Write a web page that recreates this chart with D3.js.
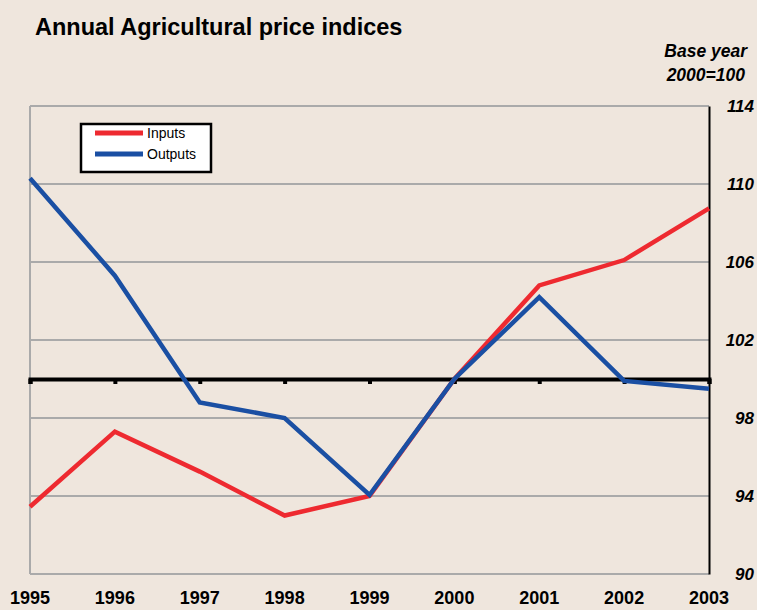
<!DOCTYPE html>
<html>
<head>
<meta charset="utf-8">
<script src="https://cdn.jsdelivr.net/npm/d3@7"></script>
<style>
  body { margin: 0; background: #efe6dd; }
  svg { display: block; font-family: "Liberation Sans", Arial, sans-serif; }
</style>
</head>
<body>
<div id="chart"></div>
<script>
// datos
const years = [1995, 1996, 1997, 1998, 1999, 2000, 2001, 2002, 2003];
const inputs = [93.45, 97.3, 95.25, 93.0, 94.0, 100.0, 104.8, 106.1, 108.75];
const outputs = [110.3, 105.3, 98.8, 98.0, 94.05, 100.0, 104.2, 99.9, 99.5];
const yTicks = [90, 94, 98, 102, 106, 110, 114];

const svgWidth = 757;
const svgHeight = 610;
const margin = { top: 106, right: 48, bottom: 36, left: 30 };
const width = svgWidth - margin.left - margin.right;
const height = svgHeight - margin.top - margin.bottom;

const svg = d3.select("#chart")
  .append("svg")
  .attr("width", svgWidth)
  .attr("height", svgHeight);

svg.append("rect").attr("width", svgWidth).attr("height", svgHeight).attr("fill", "#efe6dd");

const g = svg.append("g").attr("transform", `translate(${margin.left},${margin.top})`);

const xScale = d3.scaleLinear().domain([1995, 2003]).range([0, width]);
const yScale = d3.scaleLinear().domain([90, 114]).range([height, 0]);

// lineas de la grilla
g.selectAll(".grid")
  .data(yTicks)
  .enter().append("line")
  .attr("x1", 0).attr("x2", width)
  .attr("y1", d => yScale(d)).attr("y2", d => yScale(d))
  .attr("stroke", "#aaaaaa").attr("stroke-width", 2);

// eje izquierdo gris
g.append("line")
  .attr("x1", 0).attr("x2", 0).attr("y1", 0).attr("y2", height)
  .attr("stroke", "#aaaaaa").attr("stroke-width", 2);

// eje derecho con etiquetas
const yAxis = g.append("g")
  .attr("transform", `translate(${width},0)`)
  .call(d3.axisRight(yScale).tickValues(yTicks).tickSize(0).tickPadding(0));
yAxis.select(".domain").attr("stroke", "#000").attr("stroke-width", 2);
yAxis.selectAll("text")
  .attr("x", 45)
  .attr("text-anchor", "end")
  .style("font-size", "17px")
  .style("font-weight", "bold")
  .style("font-style", "italic")
  .style("font-family", "'Liberation Sans', Arial, sans-serif")
  .attr("fill", "#000");

// linea base 100 con marcas
const baseY = yScale(100);
const xAxis = g.append("g")
  .attr("transform", `translate(0,${baseY})`)
  .call(d3.axisBottom(xScale).tickValues(years).tickSize(5).tickFormat(""));
xAxis.select(".domain").attr("stroke", "#000").attr("stroke-width", 4);
xAxis.selectAll(".tick line").attr("stroke", "#000").attr("stroke-width", 4);

// etiquetas de los anos
g.selectAll(".year")
  .data(years)
  .enter().append("text")
  .attr("x", d => xScale(d))
  .attr("y", height + 30)
  .attr("text-anchor", "middle")
  .style("font-size", "18px")
  .style("font-weight", "bold")
  .text(d => d);

// series
const line = (vals) => d3.line()
  .x((d, i) => xScale(years[i]))
  .y(d => yScale(d))(vals);

g.append("path")
  .attr("d", line(inputs))
  .attr("fill", "none")
  .attr("stroke", "#ee2a30")
  .attr("stroke-width", 4.5);

g.append("path")
  .attr("d", line(outputs))
  .attr("fill", "none")
  .attr("stroke", "#1a4fa3")
  .attr("stroke-width", 4.5);

// leyenda
const legend = svg.append("g").attr("transform", "translate(81,124)");
legend.append("rect")
  .attr("width", 130).attr("height", 48)
  .attr("fill", "#fff").attr("stroke", "#000").attr("stroke-width", 2.5);
const legendItems = [["Inputs", "#ee2a30"], ["Outputs", "#1a4fa3"]];
legendItems.forEach((it, i) => {
  legend.append("line")
    .attr("x1", 14).attr("x2", 62)
    .attr("y1", 9 + i * 21).attr("y2", 9 + i * 21)
    .attr("stroke", it[1]).attr("stroke-width", 5);
  legend.append("text")
    .attr("x", 66).attr("y", 14 + i * 21)
    .style("font-size", "14px")
    .text(it[0]);
});

// titulos
svg.append("text")
  .attr("x", 35).attr("y", 35)
  .style("font-size", "23.5px")
  .style("font-weight", "bold")
  .text("Annual Agricultural price indices");

svg.append("text")
  .attr("x", 747).attr("y", 57)
  .attr("text-anchor", "end")
  .style("font-size", "17.5px").style("font-weight", "bold").style("font-style", "italic")
  .text("Base year");
svg.append("text")
  .attr("x", 745).attr("y", 81)
  .attr("text-anchor", "end")
  .style("font-size", "17.5px").style("font-weight", "bold").style("font-style", "italic")
  .text("2000=100");
</script>
</body>
</html>
